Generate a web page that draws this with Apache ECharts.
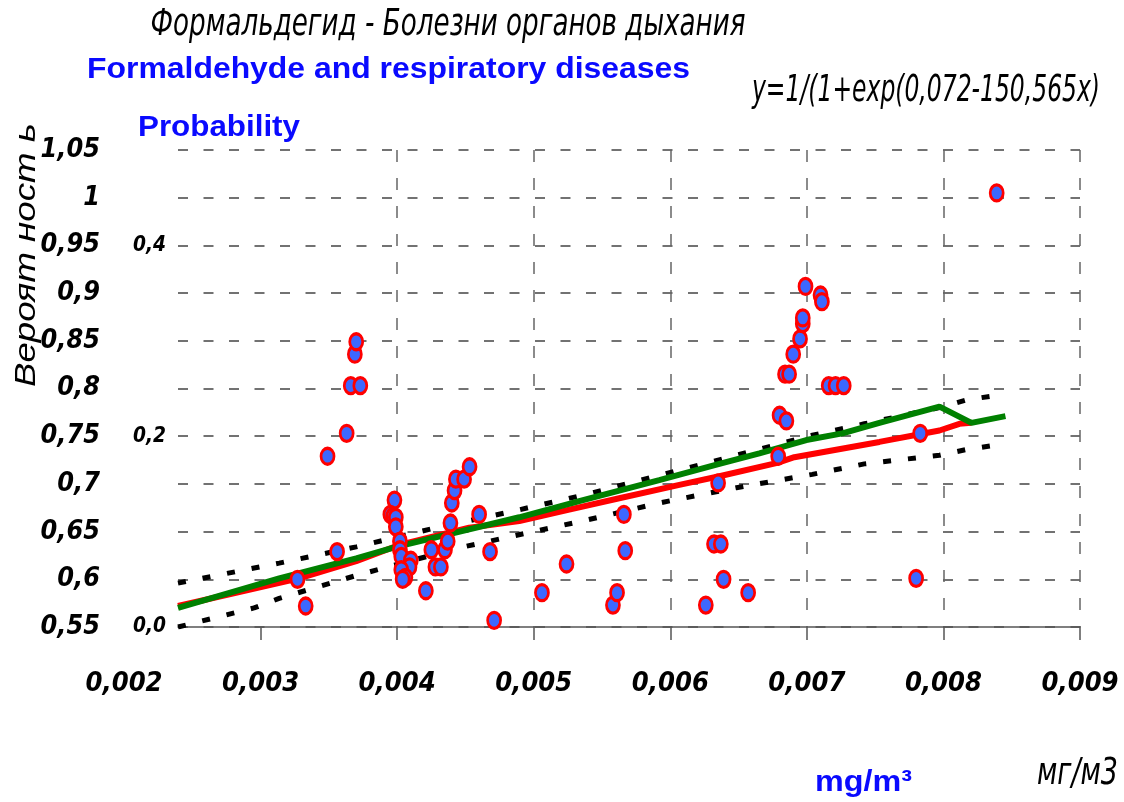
<!DOCTYPE html>
<html><head><meta charset="utf-8">
<script src="https://cdn.jsdelivr.net/npm/echarts@6/dist/echarts.min.js"></script>
<style>html,body{margin:0;padding:0;background:#fff}#c{width:1124px;height:802px}</style>
</head><body><div id="c"></div>
<script>
// x tick labels (mg/m3)
const xTickValues = [0.002, 0.003, 0.004, 0.005, 0.006, 0.007, 0.008, 0.009];
// secondary (left inner) scale labels
const secondaryTicks = [0.0, 0.2, 0.4];

// observed points: [concentration, probability]
const observed = [
  [0.00327,0.600],[0.00333,0.572],[0.00356,0.629],[0.00349,0.729],[0.00363,0.753],
  [0.00366,0.803],[0.00373,0.803],[0.00369,0.836],[0.00370,0.849],
  [0.00398,0.683],[0.00395,0.668],[0.00397,0.666],[0.00399,0.665],[0.00399,0.655],
  [0.00402,0.640],[0.00402,0.631],[0.00403,0.624],[0.00410,0.620],[0.00409,0.613],
  [0.00403,0.610],[0.00406,0.602],[0.00404,0.600],
  [0.00421,0.588],[0.00425,0.631],[0.00428,0.613],[0.00432,0.613],[0.00435,0.631],
  [0.00437,0.640],[0.00439,0.659],[0.00440,0.680],[0.00442,0.693],[0.00443,0.705],
  [0.00449,0.705],[0.00453,0.718],
  [0.00460,0.668],[0.00468,0.629],[0.00471,0.557],[0.00506,0.586],[0.00524,0.616],
  [0.00558,0.573],[0.00561,0.586],[0.00566,0.668],[0.00567,0.630],
  [0.00626,0.573],[0.00632,0.637],[0.00637,0.637],[0.00639,0.600],[0.00657,0.586],
  [0.00635,0.701],
  [0.00679,0.729],[0.00680,0.772],[0.00685,0.766],[0.00684,0.815],[0.00687,0.815],
  [0.00690,0.836],[0.00695,0.852],[0.00697,0.868],[0.00697,0.874],[0.00699,0.907],
  [0.00710,0.898],[0.00711,0.891],[0.00716,0.803],[0.00721,0.803],[0.00727,0.803],
  [0.00780,0.601],[0.00783,0.753],[0.00839,1.005]
];

// logistic fit (red)
const fitLine = [
  [0.002395,0.572],[0.003282,0.601],[0.00370,0.619],[0.004015,0.636],[0.004527,0.654],
  [0.004894,0.661],[0.00526,0.673],[0.005626,0.685],[0.006066,0.699],[0.006359,0.708],
  [0.006784,0.722],[0.006908,0.728],[0.007531,0.744],[0.007971,0.756],[0.008117,0.763],
  [0.008205,0.764]
];

// second model curve (green)
const greenLine = [
  [0.002395,0.570],[0.003136,0.601],[0.00370,0.622],[0.003993,0.634],[0.004894,0.665],
  [0.005333,0.682],[0.005626,0.693],[0.005919,0.704],[0.006359,0.721],[0.006652,0.732],
  [0.006996,0.746],[0.00726,0.753],[0.007531,0.764],[0.007971,0.781],[0.008205,0.764],
  [0.008454,0.771]
];

// confidence bounds (black dashed)
const upperBound = [
  [0.002395,0.596],[0.003136,0.617],[0.00370,0.634],[0.004256,0.653],[0.004806,0.670],
  [0.005385,0.689],[0.005919,0.709],[0.006484,0.730],[0.00704,0.751],[0.007421,0.763],
  [0.007971,0.780],[0.008168,0.788],[0.008352,0.792]
];
const lowerBound = [
  [0.002395,0.550],[0.002952,0.570],[0.003136,0.580],[0.00370,0.604],[0.004454,0.633],
  [0.004806,0.644],[0.005385,0.662],[0.005919,0.680],[0.006484,0.696],[0.00704,0.710],
  [0.007421,0.721],[0.007971,0.730],[0.008168,0.736],[0.008352,0.740]
];

// ---- font helpers ----
const mctx = document.createElement('canvas').getContext('2d');
const probe = 'abcdefghijklmnopqrstuvwxyz0123456789АБВгдж';
function hasFont(f) {
  mctx.font = '100px monospace'; const a = mctx.measureText(probe).width;
  mctx.font = '100px "' + f + '", monospace'; return mctx.measureText(probe).width !== a;
}
const narrowChoices = ['Liberation Sans Narrow', 'Arial Narrow', 'Noto Sans Condensed', 'DejaVu Sans Condensed'];
const NARROW_NAME = narrowChoices.find(hasFont) || 'sans-serif';
const NARROW = '"' + NARROW_NAME + '", sans-serif';
const SANS = '"Liberation Sans", Arial, sans-serif';
function measure(text, font) { mctx.font = font; return mctx.measureText(text).width; }
// font size balancing the wanted text width and digit height
function fitSize(text, style, family, targetW, targetH) {
  mctx.font = style + ' 100px ' + family;
  const m = mctx.measureText(text);
  const w = m.width / 100;
  const h = ((m.actualBoundingBoxAscent || 72) ) / 100;
  const fsW = targetW / w, fsH = targetH / h;
  return Math.round(Math.sqrt(fsW * fsH) * 10) / 10;
}
const LBL_W = 'bold';
const yLabelSize = fitSize('0,95', 'italic ' + LBL_W, NARROW, 50, 24);
const xLabelSize = fitSize('0,005', 'italic ' + LBL_W, NARROW, 68, 23);
const secLabelSize = fitSize('0,4', 'italic bold', NARROW, 34, 15);

const comma = v => String(Math.round(v * 1000) / 1000).replace('.', ',');

function txt(x, y, text, font, fill, align, targetW, rot) {
  const w = measure(text, font);
  return {type: 'text', x: x, y: y, rotation: rot || 0, scaleX: targetW ? targetW / w : 1, z: 100,
    style: {text: text, font: font, fill: fill, align: align || 'left', textAlign: align || 'left',
      verticalAlign: 'middle', textVerticalAlign: 'middle'}};
}

const chart = echarts.init(document.getElementById('c'), null, {renderer: 'canvas'});
const dashStyle = {color: '#000', width: 5, type: [8, 17], cap: 'butt'};

chart.setOption({
  animation: false,
  backgroundColor: '#fff',
  grid: [
    {left: 178, right: 44, top: 150, bottom: 175},
    {left: 124, right: 44, top: 150, bottom: 175}
  ],
  xAxis: [
    {gridIndex: 0, type: 'value', min: 0.002395, max: 0.009,
      axisLine: {show: true, lineStyle: {color: '#555', width: 1.5}},
      axisTick: {show: false}, axisLabel: {show: false}, splitLine: {show: false}},
    {gridIndex: 1, type: 'value', min: 0.002, max: 0.009, interval: 0.001,
      axisLine: {show: false},
      axisTick: {show: true, length: 13, customValues: xTickValues.slice(1), lineStyle: {color: '#555', width: 1.5}},
      axisLabel: {show: true, margin: 43, customValues: xTickValues, formatter: comma,
        fontFamily: NARROW, fontStyle: 'italic', fontWeight: LBL_W, fontSize: xLabelSize, color: '#000'},
      splitLine: {show: true, showMinLine: false, lineStyle: {color: '#666', width: 1.5, type: [12, 16]}}}
  ],
  yAxis: [
    {gridIndex: 0, type: 'value', min: 0.55, max: 1.05, interval: 0.05,
      axisLine: {show: false}, axisTick: {show: false},
      axisLabel: {margin: 78, formatter: comma, fontFamily: NARROW, fontStyle: 'italic', fontWeight: LBL_W, fontSize: yLabelSize, color: '#000'},
      splitLine: {show: true, lineStyle: {color: '#444', width: 1.5, type: [10, 15.5]}}},
    {gridIndex: 0, type: 'value', min: 0, max: 0.5, interval: 0.1, position: 'left',
      axisLine: {show: false}, axisTick: {show: false}, splitLine: {show: false},
      axisLabel: {margin: 12, fontFamily: NARROW, fontStyle: 'italic', fontWeight: 'bold', fontSize: secLabelSize, color: '#000',
        formatter: v => secondaryTicks.some(t => Math.abs(t - v) < 1e-9) ? v.toFixed(1).replace('.', ',') : ''}},
    {gridIndex: 1, type: 'value', min: 0.55, max: 1.05, show: false}
  ],
  series: [
    {type: 'line', xAxisIndex: 0, yAxisIndex: 0, data: upperBound, symbol: 'none', lineStyle: dashStyle, z: 2},
    {type: 'line', xAxisIndex: 0, yAxisIndex: 0, data: lowerBound, symbol: 'none', lineStyle: dashStyle, z: 2},
    {type: 'line', xAxisIndex: 0, yAxisIndex: 0, data: fitLine, symbol: 'none', lineStyle: {color: '#ff0000', width: 6}, z: 3},
    {type: 'line', xAxisIndex: 0, yAxisIndex: 0, data: greenLine, symbol: 'none', lineStyle: {color: '#008000', width: 6}, z: 4},
    {type: 'scatter', xAxisIndex: 0, yAxisIndex: 0, data: observed, symbol: 'circle', symbolSize: [13, 16],
      itemStyle: {color: '#3d68ff', borderColor: '#ff0000', borderWidth: 3, opacity: 1}, z: 5}
  ],
  graphic: [
    txt(448, 25, 'Формальдегид - Болезни органов дыхания', 'italic 37px ' + NARROW, '#000', 'center', 595),
    txt(87, 70, 'Formaldehyde and respiratory diseases', 'bold 30px ' + SANS, '#0a0aff', 'left', 603),
    txt(138, 128, 'Probability', 'bold 30px ' + SANS, '#0a0aff', 'left', 162),
    txt(752, 91, 'y=1/(1+exp(0,072-150,565x)', 'italic 38px ' + NARROW, '#000', 'left', 348),
    txt(815, 783, 'mg/m³', 'bold 30px ' + SANS, '#0a0aff', 'left', 97),
    txt(1037, 774, 'мг/м3', 'italic 38px ' + NARROW, '#000', 'left', 81),
    txt(27, 255, 'Вероят ност ь', 'italic 30px ' + SANS, '#000', 'center', 264, Math.PI / 2)
  ]
});
</script>
</body></html>
